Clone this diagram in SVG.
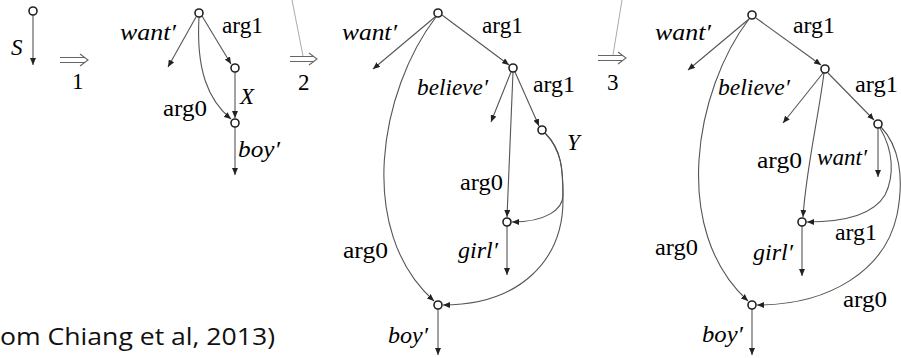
<svg xmlns="http://www.w3.org/2000/svg" width="901" height="358" viewBox="0 0 901 358">
<style>
.n{fill:#fff;stroke:#222;stroke-width:1.6}
.e{fill:none;stroke:#555;stroke-width:1.1;marker-end:url(#ah)}
.lbl{font-family:"Liberation Serif",serif;font-size:23px;fill:#000}
.it{font-style:italic}
.dbl{fill:none;stroke:#666;stroke-width:1.1}
.cap{font-family:"Open Sans",sans-serif;font-size:24px;fill:#111}
</style>
<defs>
<marker id="ah" markerUnits="userSpaceOnUse" markerWidth="8" markerHeight="6" refX="7" refY="3" orient="auto">
<path d="M0,0 L7,3 L0,6 z" fill="#222"/>
</marker>
</defs>

<g id="steps">
<path class="dbl" d="M60,57.5 H84 M60,62.5 H84 M80,54 L88,60 L80,66"/>
<text class="lbl" x="72" y="89">1</text>
<line x1="292" y1="0" x2="303" y2="56" stroke="#aaa" stroke-width="1"/>
<path class="dbl" d="M290,56.5 H313 M290,61.5 H313 M309,53 L317,59 L309,65"/>
<text class="lbl" x="298" y="90">2</text>
<line x1="622" y1="0" x2="613" y2="55" stroke="#aaa" stroke-width="1"/>
<path class="dbl" d="M598,55.5 H622 M598,60.5 H622 M618,52 L626,58 L618,64"/>
<text class="lbl" x="607" y="90">3</text>
</g>

<g id="connectors">
<path class="e" d="M33,15 L33,65"/>

<path class="e" d="M196,17 L168,67"/>
<path class="e" d="M202,16 L231,64"/>
<path class="e" d="M235,72 L235,118"/>
<path class="e" d="M199,17 C196,70 208,100 231,119"/>
<path class="e" d="M235,127 L235,175"/>

<path class="e" d="M435,17 L373,69"/>
<path class="e" d="M442,15 L509,65"/>
<path class="e" d="M511,72 L491,122"/>
<path class="e" d="M515,72 L539,126"/>
<path class="e" d="M513,72 L507,217"/>
<path class="e" d="M545,133 C562,150 563,170 563,195 C563,210 545,222 512,222"/>
<path class="e" d="M545,133 C562,150 563,170 563,200 C563,260 520,305 443,305"/>
<path class="e" d="M436,17 C380,90 355,230 434,301"/>
<path class="e" d="M507,226 L507,275"/>
<path class="e" d="M438,309 L438,355"/>

<path class="e" d="M749,19 L688,70"/>
<path class="e" d="M756,18 L821,65"/>
<path class="e" d="M823,73 L783,123"/>
<path class="e" d="M828,73 L874,120"/>
<path class="e" d="M824,73 C818,120 806,170 803,217"/>
<path class="e" d="M878,128 L878,177"/>
<path class="e" d="M880,128 C893,150 895,175 885,195 C875,212 850,222 807,222"/>
<path class="e" d="M881,127 C898,145 905,175 897,215 C885,270 830,305 757,305"/>
<path class="e" d="M749,19 C695,90 670,230 748,301"/>
<path class="e" d="M802,226 L802,276"/>
<path class="e" d="M752,309 L752,355"/>
</g>

<g id="p0">
<circle id="s-node" class="n" cx="33" cy="11" r="4"/>
<text class="lbl it" x="11" y="55">S</text>
</g>

<g id="p1">
<circle id="p1-top" class="n" cx="199" cy="13" r="4"/>
<circle id="p1-x" class="n" cx="235" cy="68" r="4"/>
<circle id="p1-boy" class="n" cx="235" cy="123" r="4"/>
<text class="lbl it" x="120" y="40" textLength="56" lengthAdjust="spacingAndGlyphs">want′</text>
<text class="lbl" x="222" y="33" textLength="41" lengthAdjust="spacingAndGlyphs">arg1</text>
<text class="lbl it" x="240" y="104">X</text>
<text class="lbl" x="163" y="116" textLength="44" lengthAdjust="spacingAndGlyphs">arg0</text>
<text class="lbl it" x="238" y="157" textLength="42" lengthAdjust="spacingAndGlyphs">boy′</text>
</g>

<g id="p2">
<circle id="p2-top" class="n" cx="438" cy="13" r="4"/>
<circle id="p2-believe" class="n" cx="513" cy="68" r="4"/>
<circle id="p2-y" class="n" cx="542" cy="130" r="4"/>
<circle id="p2-girl" class="n" cx="507" cy="222" r="4"/>
<circle id="p2-boy" class="n" cx="438" cy="305" r="4"/>
<text class="lbl it" x="342" y="40" textLength="55" lengthAdjust="spacingAndGlyphs">want′</text>
<text class="lbl" x="482" y="33" textLength="41" lengthAdjust="spacingAndGlyphs">arg1</text>
<text class="lbl it" x="417" y="95" textLength="71" lengthAdjust="spacingAndGlyphs">believe′</text>
<text class="lbl" x="533" y="92" textLength="42" lengthAdjust="spacingAndGlyphs">arg1</text>
<text class="lbl it" x="567" y="150">Y</text>
<text class="lbl" x="460" y="190" textLength="43" lengthAdjust="spacingAndGlyphs">arg0</text>
<text class="lbl" x="343" y="258" textLength="45" lengthAdjust="spacingAndGlyphs">arg0</text>
<text class="lbl it" x="458" y="258" textLength="40" lengthAdjust="spacingAndGlyphs">girl′</text>
<text class="lbl it" x="388" y="343" textLength="40" lengthAdjust="spacingAndGlyphs">boy′</text>
</g>

<g id="p3">
<circle id="p3-top" class="n" cx="752" cy="15" r="4"/>
<circle id="p3-believe" class="n" cx="825" cy="69" r="4"/>
<circle id="p3-want" class="n" cx="878" cy="124" r="4"/>
<circle id="p3-girl" class="n" cx="802" cy="222" r="4"/>
<circle id="p3-boy" class="n" cx="752" cy="305" r="4"/>
<text class="lbl it" x="655" y="40" textLength="56" lengthAdjust="spacingAndGlyphs">want′</text>
<text class="lbl" x="793" y="33" textLength="42" lengthAdjust="spacingAndGlyphs">arg1</text>
<text class="lbl it" x="718" y="95" textLength="72" lengthAdjust="spacingAndGlyphs">believe′</text>
<text class="lbl" x="855" y="92" textLength="43" lengthAdjust="spacingAndGlyphs">arg1</text>
<text class="lbl" x="757" y="168" textLength="45" lengthAdjust="spacingAndGlyphs">arg0</text>
<text class="lbl it" x="817" y="165" textLength="50" lengthAdjust="spacingAndGlyphs">want′</text>
<text class="lbl" x="835" y="240" textLength="42" lengthAdjust="spacingAndGlyphs">arg1</text>
<text class="lbl" x="655" y="255" textLength="43" lengthAdjust="spacingAndGlyphs">arg0</text>
<text class="lbl it" x="753" y="260" textLength="40" lengthAdjust="spacingAndGlyphs">girl′</text>
<text class="lbl" x="843" y="307" textLength="44" lengthAdjust="spacingAndGlyphs">arg0</text>
<text class="lbl it" x="702" y="342" textLength="41" lengthAdjust="spacingAndGlyphs">boy′</text>
</g>

<text class="cap" x="0" y="345" textLength="275" lengthAdjust="spacingAndGlyphs">om Chiang et al, 2013)</text>
</svg>
